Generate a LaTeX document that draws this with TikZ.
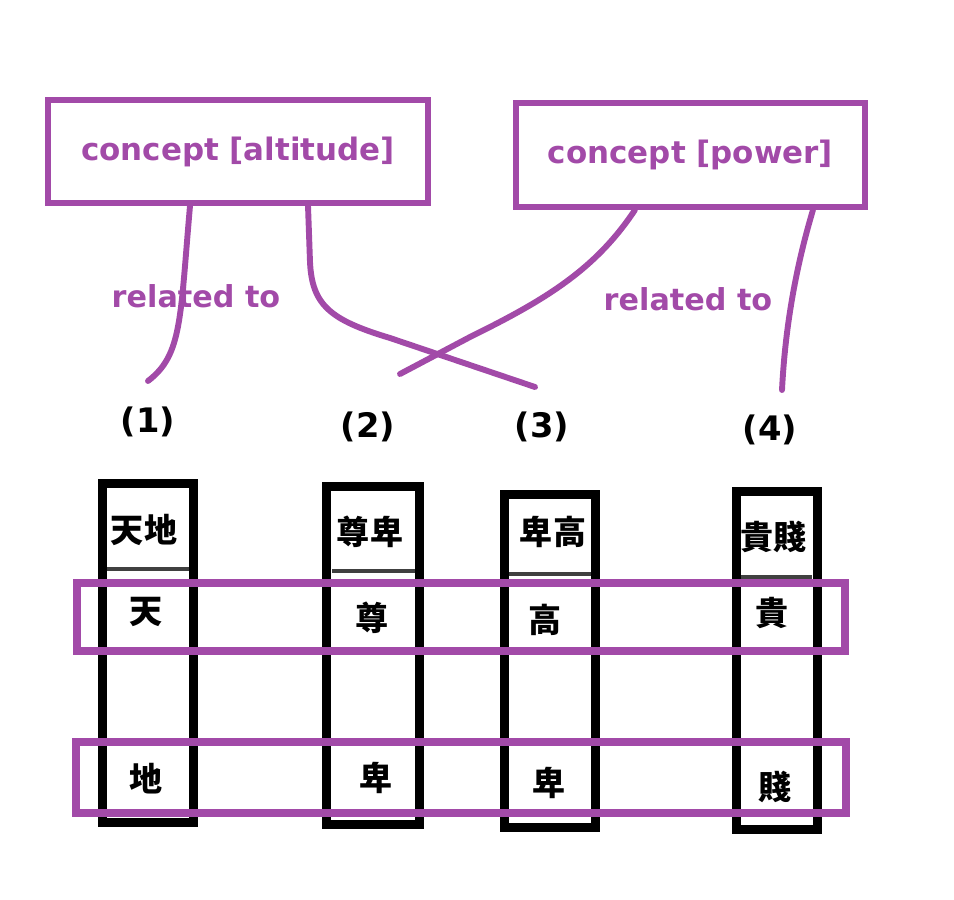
\documentclass[tikz,border=0pt]{standalone}
\usepackage{fontspec}
\setmainfont{DejaVu Sans}
\newfontfamily\jpfont{Noto Sans CJK JP}
\usetikzlibrary{calc}
\definecolor{cPurp}{HTML}{A24AA8}
\tikzset{
    concept/.style={draw=cPurp, line width=4.3pt, inner sep=0pt, text=cPurp,
                    font=\bfseries\fontsize{22pt}{26pt}\selectfont},
    rowbox/.style={draw=cPurp, line width=5.7pt, inner sep=0pt},
    colbox/.style={draw=black, line width=6.4pt, inner sep=0pt},
    kanji/.style={inner sep=0pt, font=\jpfont\bfseries\fontsize{23.5pt}{27pt}\selectfont},
    num/.style={inner sep=0pt, font=\bfseries\fontsize{24pt}{28pt}\selectfont},
    relname/.style={inner sep=0pt, text=cPurp, font=\bfseries\fontsize{21.5pt}{25pt}\selectfont},
    rel/.style={cPurp, line width=4.2pt, line cap=round},
    sepline/.style={black!75, line width=2.6pt},
}

\begin{document}
\begin{tikzpicture}[x=0.025cm, y=-0.025cm]
\useasboundingbox (0,0) rectangle (954,900);

% the two concepts
\node[concept, minimum width=9.5cm, minimum height=2.575cm] (alt) at (238,151.5) {concept [altitude]};
\node[concept, minimum width=8.725cm, minimum height=2.6cm] (pow) at (690.5,155) {concept [power]};

% the four words, one column each
\node[colbox, minimum width=2.2625cm, minimum height=8.45cm] (c1) at (147.75,653) {};
\node[colbox, minimum width=2.3125cm, minimum height=8.425cm] (c2) at (373.25,655.5) {};
\node[colbox, minimum width=2.25cm, minimum height=8.3cm] (c3) at (550,661) {};
\node[colbox, minimum width=2.0cm, minimum height=8.425cm] (c4) at (777,660.5) {};

\draw[sepline] (107,569) -- (189,569);
\draw[sepline] (332,571) -- (415,571);
\draw[sepline] (509,574) -- (591,574);
\draw[sepline] (741,577) -- (812,577);

\node[kanji] (w1) at (144,530) {天地};
\node[kanji] (w2) at (370,532) {尊卑};
\node[kanji] (w3) at (553,532) {卑高};
\node[kanji] (w4) at (773.5,537) {貴賤};

\node[kanji] (h1) at (146.5,611.5) {天};
\node[kanji] (h2) at (372,618) {尊};
\node[kanji] (h3) at (545,620) {高};
\node[kanji] (h4) at (772,613) {貴};

\node[kanji] (l1) at (146,779) {地};
\node[kanji] (l2) at (376,778) {卑};
\node[kanji] (l3) at (549,783) {卑};
\node[kanji] (l4) at (775,787) {賤};

% rows: upper and lower member of each pair
\node[rowbox, minimum width=19.19cm, minimum height=1.7cm] (rowhi) at (461.25,617) {};
\node[rowbox, minimum width=19.24cm, minimum height=1.775cm] (rowlo) at (461.25,777.5) {};

% numbers
\node[num] (n1) at (148,422) {(1)};
\node[num] (n2) at (368,427) {(2)};
\node[num] (n3) at (542,427) {(3)};
\node[num] (n4) at (770,430) {(4)};

% links from the concepts
\coordinate (e1) at (148,381);
\coordinate (e2) at (400,374);
\coordinate (e3) at (535,387);
\coordinate (e4) at (782,390);

\draw[rel] ([xshift=-1.2cm]alt.south) .. controls (180,320) and (182,355) .. (e1);
\draw[rel] ([xshift=1.75cm]alt.south) -- (310,262) .. controls (312,305) and (330,320) .. (390,338) -- (e3);
\draw[rel] ([xshift=-1.39cm]pow.south) .. controls (595,270) and (545,300) .. (470,337) -- (e2);
\draw[rel] ([xshift=3.06cm]pow.south) .. controls (795,270) and (785,330) .. (e4);

\node[relname] (r1) at (196,296) {related to};
\node[relname] (r2) at (688,299) {related to};

\end{tikzpicture}
\end{document}
